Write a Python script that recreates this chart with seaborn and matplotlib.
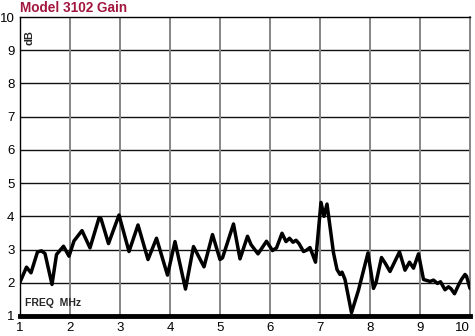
import matplotlib
matplotlib.use("Agg")
import matplotlib.pyplot as plt
import seaborn as sns
import pandas as pd

freq_mhz = [1.00, 1.13, 1.22, 1.35, 1.43, 1.50, 1.64, 1.73, 1.87, 1.98,
            2.08, 2.24, 2.40, 2.58, 2.62, 2.77, 2.98, 3.18, 3.36, 3.56,
            3.73, 3.95, 4.10, 4.31, 4.47, 4.68, 4.85, 5.00, 5.05, 5.27,
            5.40, 5.55, 5.62, 5.76, 5.93, 6.05, 6.13, 6.24, 6.32, 6.39,
            6.46, 6.52, 6.58, 6.67, 6.73, 6.80, 6.91, 7.02, 7.08, 7.14,
            7.27, 7.34, 7.40, 7.44, 7.50, 7.63, 7.77, 7.96, 8.07, 8.12,
            8.23, 8.30, 8.40, 8.59, 8.70, 8.79, 8.87, 8.97, 9.07, 9.20,
            9.27, 9.35, 9.41, 9.50, 9.57, 9.62, 9.69, 9.77, 9.83, 9.90,
            9.93, 10.00]
gain_db = [2.02, 2.47, 2.30, 2.93, 2.96, 2.88, 1.95, 2.85, 3.10, 2.80,
           3.26, 3.57, 3.05, 3.95, 3.93, 3.18, 4.04, 2.94, 3.74, 2.70,
           3.34, 2.23, 3.24, 1.81, 3.09, 2.48, 3.45, 2.70, 2.75, 3.77,
           2.72, 3.40, 3.15, 2.87, 3.25, 2.97, 3.05, 3.49, 3.24, 3.34,
           3.22, 3.28, 3.18, 2.94, 2.98, 3.06, 2.62, 4.42, 4.00, 4.37,
           2.90, 2.40, 2.25, 2.32, 2.10, 1.10, 1.78, 2.90, 1.83, 2.00,
           2.76, 2.60, 2.34, 2.93, 2.38, 2.62, 2.44, 2.87, 2.10, 2.04,
           2.08, 1.98, 2.03, 1.79, 1.88, 1.82, 1.67, 1.93, 2.10, 2.25,
           2.20, 1.83]
x_ticks = [1, 2, 3, 4, 5, 6, 7, 8, 9, 10]
y_ticks = [1, 2, 3, 4, 5, 6, 7, 8, 9, 10]

df = pd.DataFrame({"freq": freq_mhz, "gain": gain_db})

sns.set_style("white")
plt.rcParams['font.family'] = ['Liberation Sans Narrow', 'Liberation Sans', 'DejaVu Sans']

fig = plt.figure(figsize=(4.75, 3.36), dpi=100)
ax = fig.add_axes([20/475, 20/336, 450/475, 299/336])

sns.lineplot(data=df, x="freq", y="gain", ax=ax, color="black",
             linewidth=2.5, solid_joinstyle="round", solid_capstyle="round",
             zorder=5)

ax.set_xlim(1, 10)
ax.set_ylim(1, 10)
ax.set_xticks(x_ticks)
ax.set_yticks(y_ticks)
ax.set_xticklabels([str(t) for t in x_ticks])
ax.set_yticklabels([str(t) for t in y_ticks])
ax.tick_params(axis="both", length=0, labelsize=9.5, colors="black")
ax.tick_params(axis="x", pad=4)
ax.tick_params(axis="y", pad=4)
for lbl in ax.get_xticklabels()[-1:]:
    lbl.set_horizontalalignment("right")

for v in y_ticks[1:-1]:
    ax.axhline(v, color="#111111", linewidth=1.0, zorder=1)
for v in x_ticks[1:-1]:
    ax.axvline(v, color="#858585", linewidth=1.4, zorder=1)

ax.spines["bottom"].set_linewidth(3.5)
ax.spines["bottom"].set_color("black")
ax.spines["left"].set_linewidth(1.0)
ax.spines["left"].set_color("black")
ax.spines["top"].set_linewidth(1.0)
ax.spines["top"].set_color("black")
ax.spines["right"].set_linewidth(1.4)
ax.spines["right"].set_color("#858585")

ax.set_xlabel("")
ax.set_ylabel("")

fig.text(20/475, 1 - 8/336, "Model 3102 Gain", color="#a3173f",
         fontsize=9.8, fontweight="bold", ha="left", va="center")
ax.text(0.022, 0.955, "dB", transform=ax.transAxes, rotation=90,
        fontsize=8, fontweight="bold", ha="center", va="top")
ax.text(0.012, 0.045, "FREQ  MHz", transform=ax.transAxes,
        fontsize=7.5, fontweight="bold", ha="left", va="center")

fig.savefig("out.png", dpi=100)
